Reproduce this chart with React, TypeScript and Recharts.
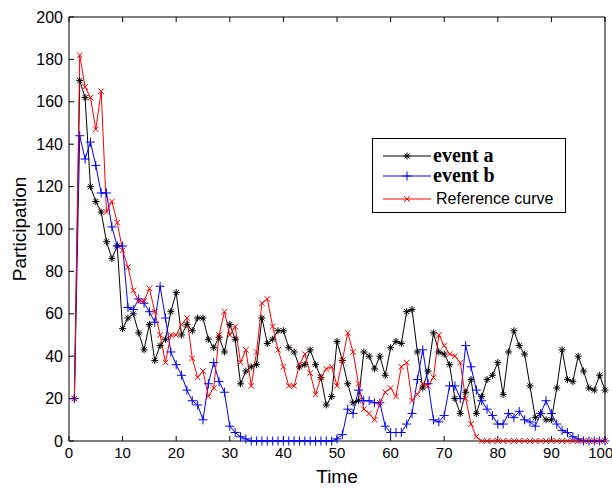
import React from 'react';
import { LineChart, Line, XAxis, YAxis } from 'recharts';

// values per time step, t = 1..100
const eventA = [
  20, 170, 162, 120, 113, 108, 94, 86, 92, 53,
  58, 60, 51, 43, 55, 38, 45, 48, 61, 70,
  50, 55, 52, 58, 58, 48, 44, 49, 42, 55,
  48, 27, 33, 35, 36, 58, 46, 48, 52, 52,
  44, 42, 35, 36, 43, 36, 30, 17, 21, 47,
  38, 27, 18, 19, 42, 40, 34, 40, 31, 44,
  47, 46, 61, 62, 42, 25, 33, 51, 42, 41,
  36, 20, 13, 23, 29, 13, 21, 29, 31, 37,
  22, 42, 52, 45, 41, 26, 11, 13, 10, 10,
  25, 43, 29, 28, 40, 33, 25, 24, 31, 24,
];

const eventB = [
  20, 144, 133, 141, 130, 117, 117, 101, 92, 92,
  63, 62, 67, 65, 61, 56, 73, 58, 42, 36,
  31, 24, 19, 17, 10, 27, 37, 28, 23, 7,
  4, 2, 1, 0, 0, 0, 0, 0, 0, 0,
  0, 0, 0, 0, 0, 0, 0, 0, 0, 1,
  3, 15, 13, 24, 19, 19, 18, 18, 7, 4,
  4, 4, 8, 13, 29, 43, 27, 10, 9, 12,
  26, 26, 20, 45, 35, 24, 19, 15, 12, 8,
  8, 13, 11, 14, 10, 9, 7, 13, 19, 13,
  8, 5, 4, 2, 1, 0, 0, 0, 0, 0,
];

const reference = [
  20, 182, 167, 162, 147, 165, 108, 113, 103, 90,
  82, 71, 66, 66, 72, 61, 50, 37, 50, 50,
  55, 58, 39, 30, 33, 21, 25, 50, 61, 50,
  54, 37, 43, 26, 42, 65, 67, 54, 43, 35,
  26, 26, 36, 41, 32, 22, 30, 34, 35, 26,
  38, 51, 42, 27, 15, 13, 10, 18, 23, 25,
  21, 35, 37, 19, 22, 27, 26, 30, 50, 45,
  41, 40, 37, 20, 8, 2, 0, 0, 0, 0,
  0, 0, 0, 0, 0, 0, 0, 0, 0, 0,
  0, 0, 0, 0, 0, 0, 0, 0, 0, 0,
];

const xTicks = [0, 10, 20, 30, 40, 50, 60, 70, 80, 90, 100];
const yTicks = [0, 20, 40, 60, 80, 100, 120, 140, 160, 180, 200];

const data = eventA.map((a, i) => ({
  t: i + 1,
  a,
  b: eventB[i],
  ref: reference[i],
}));

const SANS = '"Liberation Sans", Arial, sans-serif';
const SERIF = '"Liberation Serif", "Times New Roman", serif';

function star(cx: number, cy: number, key?: string) {
  const r = 3.5;
  const d = 2.5;
  return (
    <g key={key} stroke="#000" strokeWidth={1}>
      <line x1={cx - r} y1={cy} x2={cx + r} y2={cy} />
      <line x1={cx} y1={cy - r} x2={cx} y2={cy + r} />
      <line x1={cx - d} y1={cy - d} x2={cx + d} y2={cy + d} />
      <line x1={cx - d} y1={cy + d} x2={cx + d} y2={cy - d} />
    </g>
  );
}

function plus(cx: number, cy: number, key?: string) {
  const r = 4.5;
  return (
    <g key={key} stroke="#0000ff" strokeWidth={1}>
      <line x1={cx - r} y1={cy} x2={cx + r} y2={cy} />
      <line x1={cx} y1={cy - r} x2={cx} y2={cy + r} />
    </g>
  );
}

function cross(cx: number, cy: number, key?: string) {
  const d = 2.8;
  return (
    <g key={key} stroke="#ff0000" strokeWidth={1}>
      <line x1={cx - d} y1={cy - d} x2={cx + d} y2={cy + d} />
      <line x1={cx - d} y1={cy + d} x2={cx + d} y2={cy - d} />
    </g>
  );
}

const dotOf = (draw: typeof star) => (props: any) => {
  const { cx, cy, index } = props;
  if (cx == null || cy == null) return <g key={`e${index}`} />;
  return draw(cx, cy, `d${index}`);
};

// box sides carry tick marks but no labels
const noLabel = () => <g />;

function LegendBox() {
  return (
    <div
      style={{
        position: 'absolute',
        left: 372,
        top: 138,
        width: 194,
        height: 75,
        border: '1px solid #000',
        background: '#fff',
        boxSizing: 'border-box',
      }}
    >
      <svg width={192} height={73}>
        <line x1={10} y1={17} x2={58} y2={17} stroke="#000" />
        {star(34, 17)}
        <text x={60} y={23} fontFamily={SERIF} fontWeight="bold" fontSize={20} fill="#000">
          event a
        </text>
        <line x1={10} y1={37} x2={58} y2={37} stroke="#0000ff" />
        {plus(34, 37)}
        <text x={60} y={43} fontFamily={SERIF} fontWeight="bold" fontSize={20} fill="#000">
          event b
        </text>
        <line x1={10} y1={60} x2={58} y2={60} stroke="#ff0000" />
        {cross(34, 60)}
        <text x={63} y={65} fontFamily={SANS} fontSize={16} fill="#000">
          Reference curve
        </text>
      </svg>
    </div>
  );
}

export default function App() {
  return (
    <div style={{ position: 'absolute', left: 0, top: 0, width: 612, height: 488, background: '#fff' }}>
      <LineChart width={612} height={488} data={data} margin={{ top: 12, right: 2, bottom: 0, left: 0 }}>
        <XAxis
          dataKey="t"
          type="number"
          domain={[0, 100]}
          ticks={xTicks}
          stroke="#000"
          tickSize={-5}
          tickMargin={11}
          height={47}
          tick={{ fill: '#000', fontSize: 15, fontFamily: SANS }}
          label={{ value: 'Time', position: 'insideBottom', offset: 5, fontSize: 19, fontFamily: SANS, fill: '#000' }}
        />
        <XAxis
          xAxisId="top"
          orientation="top"
          dataKey="t"
          type="number"
          domain={[0, 100]}
          ticks={xTicks}
          stroke="#000"
          tickSize={-5}
          tick={noLabel}
          height={5}
        />
        <YAxis
          domain={[0, 200]}
          ticks={yTicks}
          stroke="#000"
          tickSize={-5}
          tickMargin={11}
          width={69}
          tick={{ fill: '#000', fontSize: 16, fontFamily: SANS }}
          label={{
            value: 'Participation',
            angle: -90,
            position: 'insideLeft',
            offset: 19,
            fontSize: 19,
            fontFamily: SANS,
            fill: '#000',
            style: { textAnchor: 'middle' },
          }}
        />
        <YAxis
          yAxisId="right"
          orientation="right"
          domain={[0, 200]}
          ticks={yTicks}
          stroke="#000"
          tickSize={-5}
          tick={noLabel}
          width={5}
        />
        <Line dataKey="a" stroke="#000" strokeWidth={1} dot={dotOf(star)} isAnimationActive={false} />
        <Line dataKey="b" stroke="#0000ff" strokeWidth={1} dot={dotOf(plus)} isAnimationActive={false} />
        <Line dataKey="ref" stroke="#ff0000" strokeWidth={1} dot={dotOf(cross)} isAnimationActive={false} />
      </LineChart>
      <LegendBox />
    </div>
  );
}
